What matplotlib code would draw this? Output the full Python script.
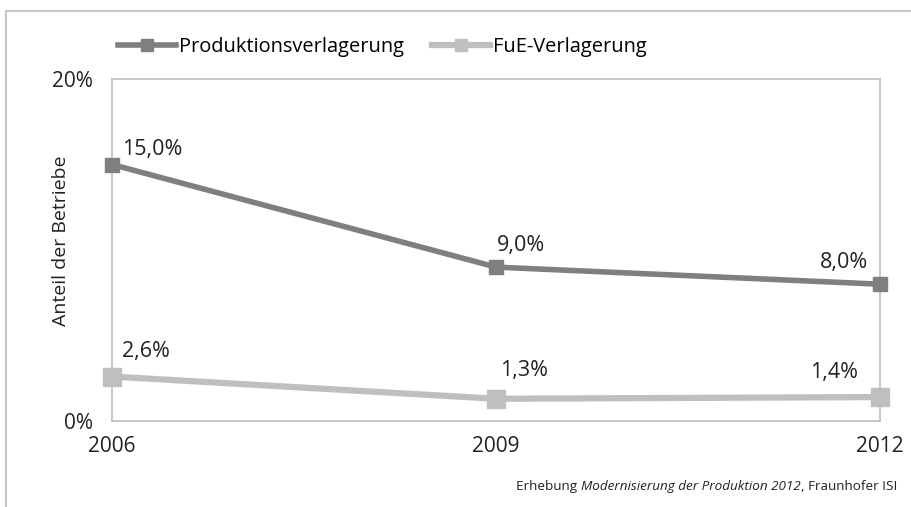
import matplotlib
matplotlib.use('Agg')
import matplotlib.pyplot as plt
from matplotlib.lines import Line2D
from matplotlib.ticker import FuncFormatter

plt.rcParams['font.family'] = ['Open Sans', 'DejaVu Sans']

# Daten
jahre = [2006, 2009, 2012]
produktion = [15.0, 9.0, 8.0]
fue = [2.6, 1.3, 1.4]
serien = ['Produktionsverlagerung', 'FuE-Verlagerung']
y_ticks = [0, 20]

dunkel = '#7f7f7f'
hell = '#bfbfbf'
txt = '#222222'

fig = plt.figure(figsize=(9.11, 5.07), dpi=100)
W, H = 911, 507
ax = fig.add_axes([112 / W, 1 - 421 / H, 768 / W, 342 / H])

# Rahmen um die Grafik (nur oben und links sichtbar)
fig.add_artist(Line2D([6 / W, 1], [1 - 11 / H, 1 - 11 / H], color='#c8c8c8', lw=1.5))
fig.add_artist(Line2D([6 / W, 6 / W], [0, 1 - 11 / H], color='#c8c8c8', lw=1.5))

ax.plot(jahre, produktion, color=dunkel, lw=4, marker='s', ms=10,
        mec=dunkel, mfc=dunkel, label=serien[0], clip_on=False, zorder=3)
ax.plot(jahre, fue, color=hell, lw=4.5, marker='s', ms=13,
        mec=hell, mfc=hell, label=serien[1], clip_on=False, zorder=3)

ax.set_xlim(2006, 2012)
ax.set_ylim(0, 20)
ax.set_xticks(jahre)
ax.set_yticks(y_ticks)
ax.yaxis.set_major_formatter(FuncFormatter(lambda v, p: f'{v:.0f}%'))
ax.tick_params(axis='both', length=0, labelsize=15, colors=txt)
ax.tick_params(axis='y', pad=14)
ax.tick_params(axis='x', pad=11)
for s in ax.spines.values():
    s.set_color(hell)
    s.set_linewidth(1.2)

ax.set_ylabel('Anteil der Betriebe', fontsize=14, color=txt)
ax.yaxis.set_label_coords(-0.055, 0.526)

# Datenbeschriftungen
def fmt(v):
    return f'{v:.1f}%'.replace('.', ',')

offs_prod = [(10, 15, 'left'), (1, 22, 'left'), (-12, 22, 'right')]
offs_fue = [(10, 25, 'left'), (4, 28, 'left'), (-22, 25, 'right')]
for x, y, (dx, dy, ha) in zip(jahre, produktion, offs_prod):
    ax.annotate(fmt(y), (x, y), xytext=(dx, dy), textcoords='offset pixels',
                ha=ha, va='center', fontsize=15.5, color=txt)
for x, y, (dx, dy, ha) in zip(jahre, fue, offs_fue):
    ax.annotate(fmt(y), (x, y), xytext=(dx, dy), textcoords='offset pixels',
                ha=ha, va='center', fontsize=15.5, color=txt)

# Legende
handles = [Line2D([], [], color=dunkel, lw=4, marker='s', ms=8, mec=dunkel),
           Line2D([], [], color=hell, lw=4.5, marker='s', ms=9, mec=hell)]
fig.legend(handles, serien, loc='center left', bbox_to_anchor=(118 / W, 1 - 47 / H),
           ncol=2, frameon=False, fontsize=14.4, handlelength=2.9,
           handletextpad=0.15, columnspacing=1.4, borderpad=0, borderaxespad=0)

# Quelle, von rechts nach links zusammengesetzt
fs = 9.7
t3 = fig.text(897 / W, 1 - 490 / H, ', Fraunhofer ISI', ha='right', va='baseline',
              fontsize=fs, color=txt)
t2 = fig.text(0, 0, 'Modernisierung der Produktion 2012', style='italic',
              ha='right', va='bottom', fontsize=fs, color=txt)
t2.set_visible(False)
t2 = ax.annotate('Modernisierung der Produktion 2012', xy=(0, 0), xycoords=t3,
                 ha='right', va='bottom', style='italic', fontsize=fs, color=txt,
                 annotation_clip=False)
ax.annotate('Erhebung ', xy=(0, 0), xycoords=t2,
            ha='right', va='bottom', fontsize=fs, color=txt,
            annotation_clip=False)

fig.savefig('out.png', dpi=100)
